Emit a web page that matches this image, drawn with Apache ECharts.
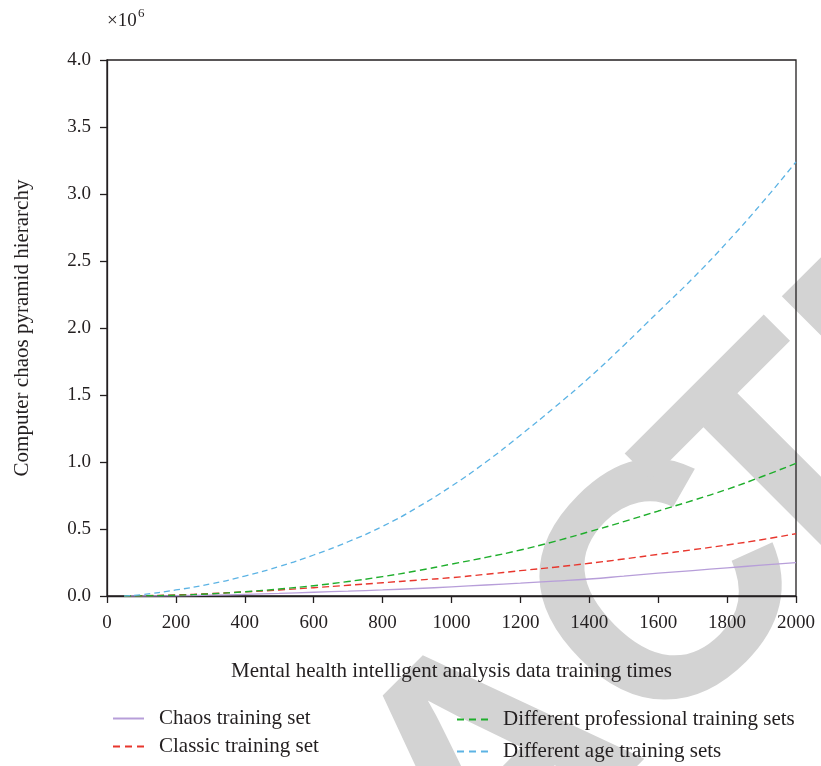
<!DOCTYPE html>
<html>
<head>
<meta charset="utf-8">
<script src="https://cdn.jsdelivr.net/npm/echarts@6/dist/echarts.min.js"></script>
<style>
html,body{margin:0;padding:0;background:#fff;}
#chart{width:821px;height:766px;}
</style>
</head>
<body>
<div id="chart"></div>
<script>
// Training times (x)
const trainingTimes = [50,100,200,300,400,500,600,700,800,900,1000,1100,1200,1300,1400,1500,1600,1700,1800,1900,2000];
// Values in units of 10^6
const chaosSet        = [0,0.000,0.002,0.006,0.012,0.019,0.028,0.036,0.045,0.056,0.068,0.082,0.096,0.111,0.127,0.148,0.170,0.190,0.210,0.230,0.249];
const classicSet      = [0,0.002,0.008,0.018,0.031,0.045,0.062,0.080,0.099,0.118,0.137,0.162,0.189,0.215,0.244,0.276,0.311,0.345,0.381,0.420,0.465];
const professionalSet = [0,0.001,0.006,0.016,0.032,0.052,0.077,0.108,0.145,0.188,0.238,0.288,0.343,0.408,0.480,0.555,0.634,0.713,0.796,0.890,0.990];
const ageSet          = [0,0.010,0.045,0.090,0.149,0.220,0.306,0.405,0.520,0.660,0.820,1.000,1.200,1.410,1.630,1.870,2.120,2.370,2.640,2.930,3.240];
const seriesNames = ['Chaos training set','Classic training set','Different professional training sets','Different age training sets'];
const xTicks = {min:0, max:2000, interval:200};
const yTicks = {min:0, max:4, interval:0.5};

const FONT = '"Liberation Serif", "Times New Roman", serif';
const TXT = '#231f20';
const pair = arr => trainingTimes.map((x,i)=>[x, arr[i]]);

// watermark letters (RETRACTED), rotated 45deg
const wmLetters = ['R','E','T','R','A','C','T','E','D'];
const wmU = [-1030,-820,-612,-407,-192,52,220,433,648];
const wmV = -876.7;
const wmGraphics = wmLetters.map((ch,i)=>{
  const u = wmU[i];
  const x = (u - wmV)/Math.SQRT2 + 16;
  const y = -(u + wmV)/Math.SQRT2 + 17;
  return {type:'text', x:x, y:y, rotation:Math.PI/4, z:-100, silent:true,
    style:{text:ch, font:'bold 334px "Liberation Sans", Arial, sans-serif', fill:'#d3d3d3', align:'center', verticalAlign:'middle'}};
});

const chart = echarts.init(document.getElementById('chart'), null, {renderer:'canvas'});
const legendBase = {
  itemHeight: 12, padding: 0,
  itemStyle: {opacity: 0, borderWidth: 0},
  textStyle: {fontFamily: FONT, fontSize: 21, color: TXT},
  selectedMode: false
};
const legendText = pad => Object.assign({}, legendBase.textStyle, {padding:[0,0,0,pad]});
chart.setOption({
  backgroundColor: '#fff',
  animation: false,
  title: [
    {text: '×10', left: 107, top: 12, padding: 0,
      textStyle: {fontFamily: FONT, fontSize: 19, fontWeight:'normal', color: TXT}},
    {text: '6', left: 138, top: 7, padding: 0,
      textStyle: {fontFamily: FONT, fontSize: 13, fontWeight:'normal', color: TXT}}
  ],
  graphic: wmGraphics,
  grid: {left:107, right:25, top:60, bottom:170, show:true, borderColor:TXT, borderWidth:1.3, backgroundColor:'transparent'},
  xAxis: {
    type:'value', min:xTicks.min, max:xTicks.max, interval:xTicks.interval,
    name:'Mental health intelligent analysis data training times', nameLocation:'middle', nameGap:65,
    nameTextStyle:{fontFamily:FONT, fontSize:21, color:TXT},
    axisLine:{show:true, onZero:false, lineStyle:{color:TXT, width:1.3}},
    axisTick:{show:true, inside:false, length:7, lineStyle:{color:TXT, width:1.3}},
    axisLabel:{fontFamily:FONT, fontSize:19, color:TXT, margin:18, formatter: v => String(v)},
    splitLine:{show:false}
  },
  yAxis: {
    type:'value', min:yTicks.min, max:yTicks.max, interval:yTicks.interval,
    name:'Computer chaos pyramid hierarchy', nameLocation:'middle', nameGap:74,
    nameTextStyle:{fontFamily:FONT, fontSize:21, color:TXT},
    axisLine:{show:true, lineStyle:{color:TXT, width:1.3}},
    axisTick:{show:true, inside:false, length:7, lineStyle:{color:TXT, width:1.3}},
    axisLabel:{fontFamily:FONT, fontSize:19, color:TXT, margin:16, formatter: v => v.toFixed(1)},
    splitLine:{show:false}
  },
  legend: [
    Object.assign({}, legendBase, {data:[seriesNames[0]], left:112, top:708, itemWidth:31, textStyle:legendText(10)}),
    Object.assign({}, legendBase, {data:[seriesNames[1]], left:112, top:736, itemWidth:31, textStyle:legendText(10), lineStyle:{type:[7,5]}}),
    Object.assign({}, legendBase, {data:[seriesNames[2]], left:456, top:709, itemWidth:32, textStyle:legendText(9), lineStyle:{type:[7,5]}}),
    Object.assign({}, legendBase, {data:[seriesNames[3]], left:456, top:741, itemWidth:32, textStyle:legendText(9), lineStyle:{type:[7,5]}})
  ],
  series: [
    {name:seriesNames[0], type:'line', data:pair(chaosSet), smooth:true, symbol:'none', z:3,
      lineStyle:{color:'#b79ed9', width:1.3, type:'solid'}, itemStyle:{color:'#b79ed9'}},
    {name:seriesNames[1], type:'line', data:pair(classicSet), smooth:true, symbol:'none', z:3,
      lineStyle:{color:'#e8362d', width:1.4, type:[7,4]}, itemStyle:{color:'#e8362d'}},
    {name:seriesNames[2], type:'line', data:pair(professionalSet), smooth:true, symbol:'none', z:3,
      lineStyle:{color:'#1fae2c', width:1.4, type:[7,4]}, itemStyle:{color:'#1fae2c'}},
    {name:seriesNames[3], type:'line', data:pair(ageSet), smooth:true, symbol:'none', z:3,
      lineStyle:{color:'#5cb3e4', width:1.3, type:[6,4]}, itemStyle:{color:'#5cb3e4'}}
  ]
});
</script>
</body>
</html>
